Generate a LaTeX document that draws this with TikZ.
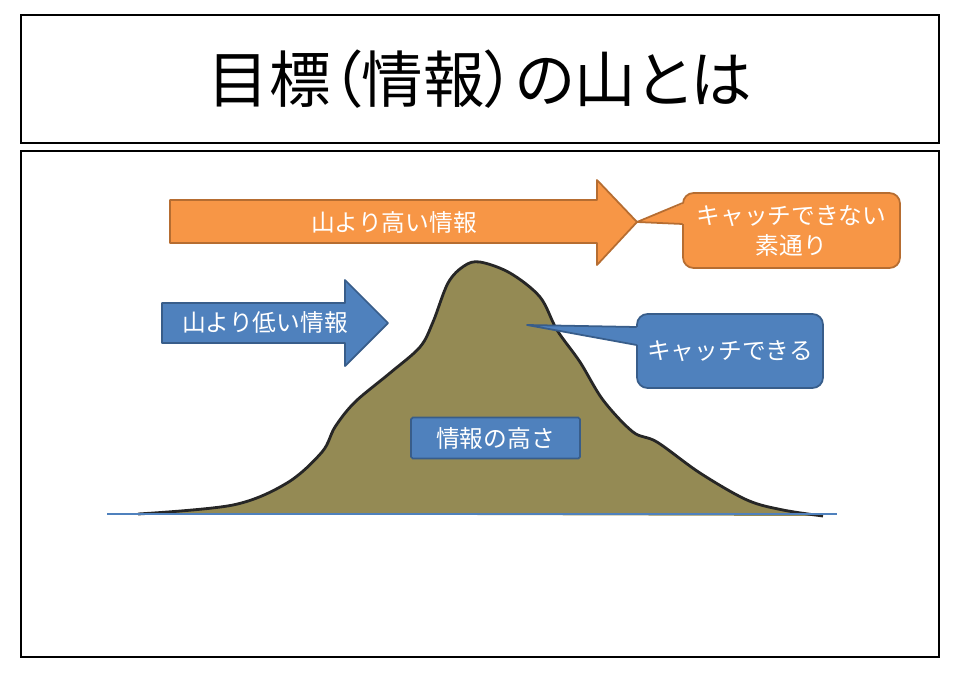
\documentclass[tikz,border=0pt]{standalone}
\usepackage{fontspec}
\setmainfont{Noto Sans CJK JP}
\newfontfamily\titlefont[RawFeature=+palt]{Noto Sans CJK JP}
\usepackage{xcolor}
\usetikzlibrary{calc}

\definecolor{hiorange}{HTML}{F79646}
\definecolor{hiorangeline}{HTML}{B66D31}
\definecolor{loblue}{HTML}{4F81BD}
\definecolor{loblueline}{HTML}{385D8A}
\definecolor{mountfill}{HTML}{948A54}

\begin{document}
\begin{tikzpicture}[
  x=0.2mm, y=-0.2mm,
  font=\fontsize{13.5}{17}\selectfont,
  frame/.style={draw, line width=1.1pt, inner sep=0pt},
  hiarrow/.style={fill=hiorange, draw=hiorangeline, line width=1pt, line join=round},
  loarrow/.style={fill=loblue, draw=loblueline, line width=1pt, line join=round},
  callout/.style={rounded corners=6pt, line width=1pt, text=white, align=center, inner sep=2pt},
  lbl/.style={text=white, inner sep=0pt},
  mount/.style={line width=1.6pt, draw=black!85, line join=round, fill=mountfill}
]
\useasboundingbox (0,0) rectangle (964,692);

% frames
\node[frame, minimum width=183.6mm, minimum height=25.6mm,
      font=\titlefont\fontsize{35}{42}\selectfont] (title) at (480,79) {目標（情報）の山とは};
\node[frame, minimum width=183.6mm, minimum height=101.2mm] (stage) at (480,404) {};

% the mountain
\draw[mount] plot[smooth, tension=0.55] coordinates {
  (138,514) (233,505) (287,483) (322,452) (335,427) (355,402) (390,373)
  (420,347) (433,322) (448,283) (464,266) (480,262) (510,273) (540,297)
  (557,330) (580,362) (603,400) (633,432) (657,442) (700,473) (747,500)
  (783,510) (823,516)};
\draw[loblue, line width=0.6pt] (107,514) -- (837,514);

% arrows
\coordinate (hightip) at (637,222);
\coordinate (lowtip) at (388,323);
\draw[hiarrow] (170,200) -- (597,200) -- (597,180) -- (hightip) -- (597,265) -- (597,243) -- (170,243) -- cycle;
\node[lbl] (hightext) at (394,222) {山より高い情報};
\draw[loarrow] (162,303) -- (345,303) -- (345,280) -- (lowtip) -- (345,366) -- (345,343) -- (162,343) -- cycle;
\node[lbl] (lowtext) at (265,323) {山より低い情報};

% callouts
\node[callout, fill=hiorange, draw=hiorangeline, minimum width=43.4mm, minimum height=15mm] (miss) at (791.5,230.5) {キャッチできない\\素通り};
\fill[hiorange] ($(miss.west)+(3,-27.5)$) -- (hightip) -- ($(miss.west)+(3,-6.5)$) -- cycle;
\draw[hiorangeline, line width=1pt, line join=round] ($(miss.west)+(0.5,-27.5)$) -- (hightip) -- ($(miss.west)+(0.5,-6.5)$);

\coordinate (peakmark) at (527,325);
\node[callout, fill=loblue, draw=loblueline, minimum width=37.2mm, minimum height=14.8mm] (hit) at (730,351) {キャッチできる};
\fill[loblue] ($(hit.west)+(3,-24)$) -- (peakmark) -- ($(hit.west)+(3,-6)$) -- cycle;
\draw[loblueline, line width=1pt, line join=round] ($(hit.west)+(0.5,-24)$) -- (peakmark) -- ($(hit.west)+(0.5,-6)$);

\node[loarrow, text=white, rounded corners=1pt, minimum width=33.8mm, minimum height=8.2mm, inner sep=0pt] (height) at (495.5,438) {情報の高さ};
\end{tikzpicture}
\end{document}
